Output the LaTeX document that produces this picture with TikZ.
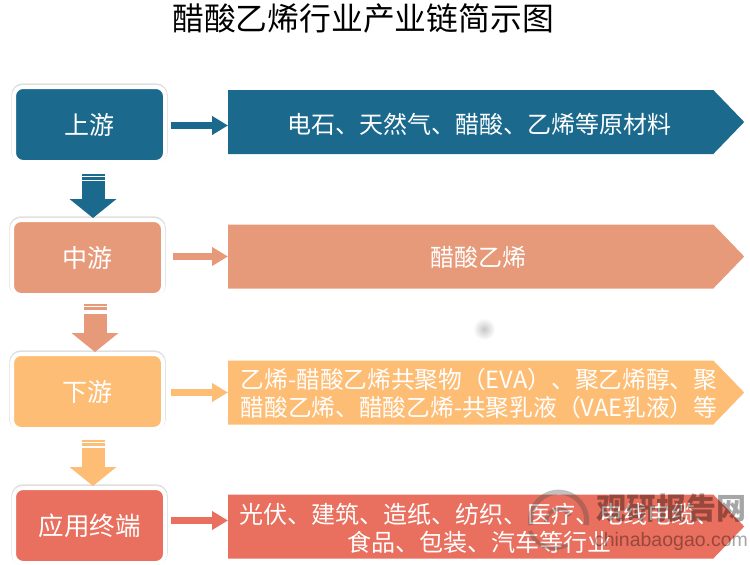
\documentclass[tikz,border=0pt]{standalone}
\usepackage{fontspec}
\setmainfont{Noto Sans CJK SC}
\newfontfamily\latinfont{Liberation Sans}
\usetikzlibrary{arrows.meta,shapes.symbols,shadows}

\definecolor{upblue}{HTML}{1B6A8E}
\definecolor{midsalmon}{HTML}{E79A79}
\definecolor{loworange}{HTML}{FEBD74}
\definecolor{appred}{HTML}{E96F5E}

\tikzset{
    stagebox/.style={draw=white, line width=4, fill=#1, rounded corners=9, minimum width=151, minimum height=75,
        text=white, font=\fontsize{25}{25}\selectfont,
        drop shadow={shadow xshift=0, shadow yshift=-1, draw=black, line width=5.5, opacity=0.12}},
    bannerbox/.style={signal, signal to=east, signal from=nowhere, signal pointer angle=92, fill=#1, inner sep=0,
        minimum width=516, minimum height=64, anchor=west},
    bannertext/.style={text=white, font=\fontsize{24}{28}\selectfont, align=center},
    sidearrow/.style={draw=#1, line width=7, -{Triangle[length=16,width=18]}},
    downarrow/.style={draw=#1, line width=23, shorten <=17, -{Triangle[length=19,width=46]}},
    stripe/.style={fill=#1}
}

\begin{document}
\begin{tikzpicture}[x=1pt, y=-1pt]
    \useasboundingbox (0, 0) rectangle (750, 565);

    \node[font=\fontsize{31.8}{32}\selectfont] (title) at (363, 18) {醋酸乙烯行业产业链简示图};

    % stages
    \node[stagebox=upblue] (up) at (89.5, 124.5) {上游};
    \node[stagebox=midsalmon] (mid) at (87.5, 257.5) {中游};
    \node[stagebox=loworange] (low) at (87.5, 391.5) {下游};
    \node[stagebox=appred, font=\fontsize{25.5}{25.5}\selectfont] (app) at (89.5, 525.5) {应用终端};

    % banners
    \node[bannerbox=upblue] (upbar) at (228, 122) {};
    \node[bannerbox=midsalmon] (midbar) at (228, 256.5) {};
    \node[bannerbox=loworange] (lowbar) at (228, 392.5) {};
    \node[bannerbox=appred] (appbar) at (228, 526.5) {};
    \node[bannertext] (uptext) at (479, 124) {电石、天然气、醋酸、乙烯等原材料};
    \node[bannertext] (midtext) at (478, 257) {醋酸乙烯};
    \node[bannertext, font=\fontsize{23.7}{28}\selectfont] (lowtext) at (479, 393.5) {乙烯-醋酸乙烯共聚物（EVA）、聚乙烯醇、聚\\醋酸乙烯、醋酸乙烯-共聚乳液（VAE乳液）等};
    \node[bannertext] (apptext) at (479, 528) {光伏、建筑、造纸、纺织、医疗、电线电缆、\\食品、包装、汽车等行业};

    % side arrows
    \draw[sidearrow=upblue, shorten <=4] (up.east |- 0, 125.5) -- (upbar.west |- 0, 125.5);
    \draw[sidearrow=midsalmon, shorten <=8] (mid.east |- 0, 256.5) -- (midbar.west |- 0, 256.5);
    \draw[sidearrow=loworange, shorten <=6] (low.east |- 0, 392.5) -- (lowbar.west |- 0, 392.5);
    \draw[sidearrow=appred, shorten <=4] (app.east |- 0, 520.5) -- (appbar.west |- 0, 520.5);

    % down arrows
    \draw[downarrow=upblue] ([xshift=3.5]up.south) -- ([xshift=5.5]mid.north);
    \draw[downarrow=midsalmon] ([xshift=7.5]mid.south) -- ([xshift=7.5]low.north);
    \draw[downarrow=loworange] ([xshift=5.5]low.south) -- ([xshift=3.5]app.north);

    \foreach \cx/\cy/\col in {93/174/upblue, 95/304/midsalmon, 93/440/loworange} {
        \fill[stripe=\col] (\cx-11.5, \cy) rectangle (\cx+11.5, \cy+1.8);
        \fill[stripe=\col] (\cx-11.5, \cy+3.2) rectangle (\cx+11.5, \cy+5.5);
    }

    % grey spot
    \shade[inner color=black!22, outer color=white] (484, 329) circle (11);

    % watermark
    \begin{scope}[opacity=0.35]
        \draw[line width=5, gray!60!black] (531, 525) arc (170:370:28);
        \draw[line width=4, gray!60!black] (530, 531) arc (160:60:26);
        \draw[line width=4, gray!60!black] (546, 522) arc (180:330:13);
        \node[font=\fontsize{30}{30}\bfseries\selectfont, text=black] (markcn) at (671, 508) {观研报告网};
        \node[font=\latinfont\fontsize{19.5}{20}\selectfont, text=black] (markurl) at (671, 541) {chinabaogao.com};
    \end{scope}
\end{tikzpicture}
\end{document}
